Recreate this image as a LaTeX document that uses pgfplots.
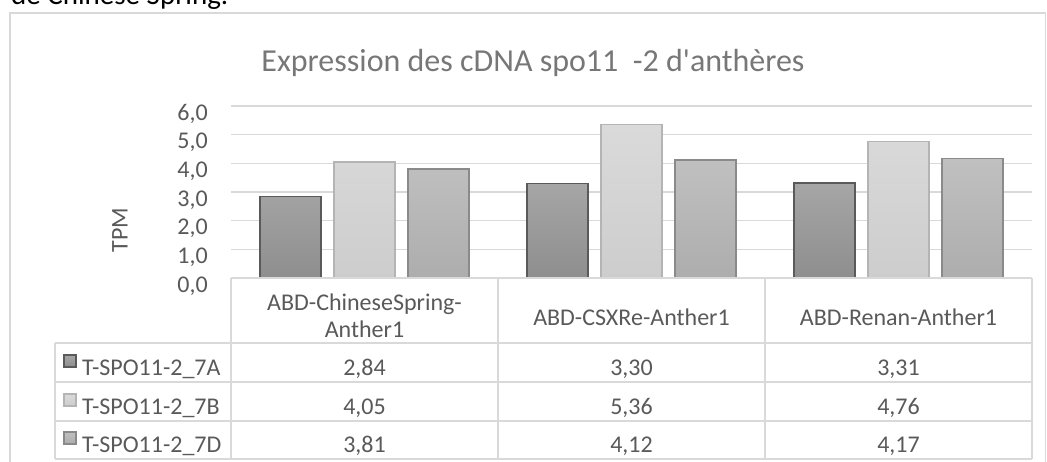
\documentclass[border=0pt]{standalone}
\usepackage{pgfplots}
\pgfplotsset{compat=1.18}
\usepackage{fontspec}
\setmainfont{Carlito}
\definecolor{txt}{HTML}{595959}
\definecolor{ttl}{HTML}{777777}
\definecolor{gridc}{HTML}{D9D9D9}
\definecolor{aTop}{HTML}{A6A6A6}\definecolor{aBot}{HTML}{8E8E8E}\definecolor{aLine}{HTML}{5A5A5A}
\definecolor{bTop}{HTML}{DADADA}\definecolor{bBot}{HTML}{CDCDCD}\definecolor{bLine}{HTML}{B4B4B4}
\definecolor{cTop}{HTML}{C0C0C0}\definecolor{cBot}{HTML}{ADADAD}\definecolor{cLine}{HTML}{8A8A8A}
\newcommand\tf{\fontsize{24}{27}\selectfont}
\begin{document}
\begin{tikzpicture}[x=1pt,y=1pt]
\useasboundingbox (0,0) rectangle (1047,462);
\begin{axis}[
  at={(231pt,184pt)}, anchor=south west,
  scale only axis, width=801pt, height=172pt,
  xmin=-0.5, xmax=2.5, ymin=0, ymax=6,
  ytick={0,1,2,3,4,5,6}, xtick=\empty,
  ymajorgrids, grid style={gridc, line width=1.3pt},
  axis line style={draw=none},
  major tick length=0pt,
  yticklabel={\pgfmathprintnumber[fixed,fixed zerofill,precision=1,use comma,assume math mode=true]{\tick}},
  yticklabel style={font=\tf, color=txt, inner sep=0pt, xshift=-23pt, yshift=-8pt},
  ybar=13pt, bar width=61pt,
]
\addplot[draw=aLine, line width=1.5pt, top color=aTop, bottom color=aBot] coordinates {(0,2.84) (1,3.30) (2,3.31)};
\addplot[draw=bLine, line width=1.5pt, top color=bTop, bottom color=bBot] coordinates {(0,4.05) (1,5.36) (2,4.76)};
\addplot[draw=cLine, line width=1.5pt, top color=cTop, bottom color=cBot] coordinates {(0,3.81) (1,4.12) (2,4.17)};
\end{axis}
\begin{scope}[shift={(0,462)}, y=-1pt]
  % outer frame
  \draw[gridc, line width=1.3pt] (10,462) -- (10,13) -- (1045.5,13) -- (1045.5,462);
  % page text above the chart (cut off by the top edge, as in the reference)
  \node[anchor=base west, inner sep=0pt, font=\fontsize{29}{34}\selectfont, black] at (11,5) {de Chinese Spring.};
  % title
  \node[anchor=base, inner sep=0pt, font=\fontsize{32}{38}\selectfont, text=ttl] at (533,72) {Expression des cDNA spo11\ \ -2 d\textquotesingle anthères};
  % y label
  \node[rotate=90, inner sep=0pt, font=\tf, text=txt] at (120,230) {TPM};
  % data table grid
  \draw[gridc, line width=1.3pt] (231,278) -- (1032,278);
  \foreach \yy in {343,382,421,459} \draw[gridc, line width=1.3pt] (55,\yy) -- (1032,\yy);
  \draw[gridc, line width=1.3pt] (55,343) -- (55,459);
  \foreach \xx in {231,498,765,1032} \draw[gridc, line width=1.3pt] (\xx,278) -- (\xx,459);
  % headers and values
  \begin{scope}[every node/.style={anchor=base, inner sep=0pt, font=\tf, text=txt}]
  \node at (364.5,311) {ABD-ChineseSpring-};
  \node at (364.5,338) {Anther1};
  \node at (631.5,326) {ABD-CSXRe-Anther1};
  \node at (898.5,326) {ABD-Renan-Anther1};
  \node at (364.5,376) {2,84}; \node at (631.5,376) {3,30}; \node at (898.5,376) {3,31};
  \node at (364.5,415) {4,05}; \node at (631.5,415) {5,36}; \node at (898.5,415) {4,76};
  \node at (364.5,453) {3,81}; \node at (631.5,453) {4,12}; \node at (898.5,453) {4,17};
  \node[anchor=base west] at (82,376) {T-SPO11-2\_7A};
  \node[anchor=base west] at (82,415) {T-SPO11-2\_7B};
  \node[anchor=base west] at (82,453) {T-SPO11-2\_7D};
  \end{scope}
  % legend keys
  \draw[aLine, line width=1.2pt, top color=aTop, bottom color=aBot] (64,355) rectangle (76,367);
  \draw[bLine, line width=1.2pt, top color=bTop, bottom color=bBot] (64,394) rectangle (76,406);
  \draw[cLine, line width=1.2pt, top color=cTop, bottom color=cBot] (64,432) rectangle (76,444);
\end{scope}
\end{tikzpicture}
\end{document}
